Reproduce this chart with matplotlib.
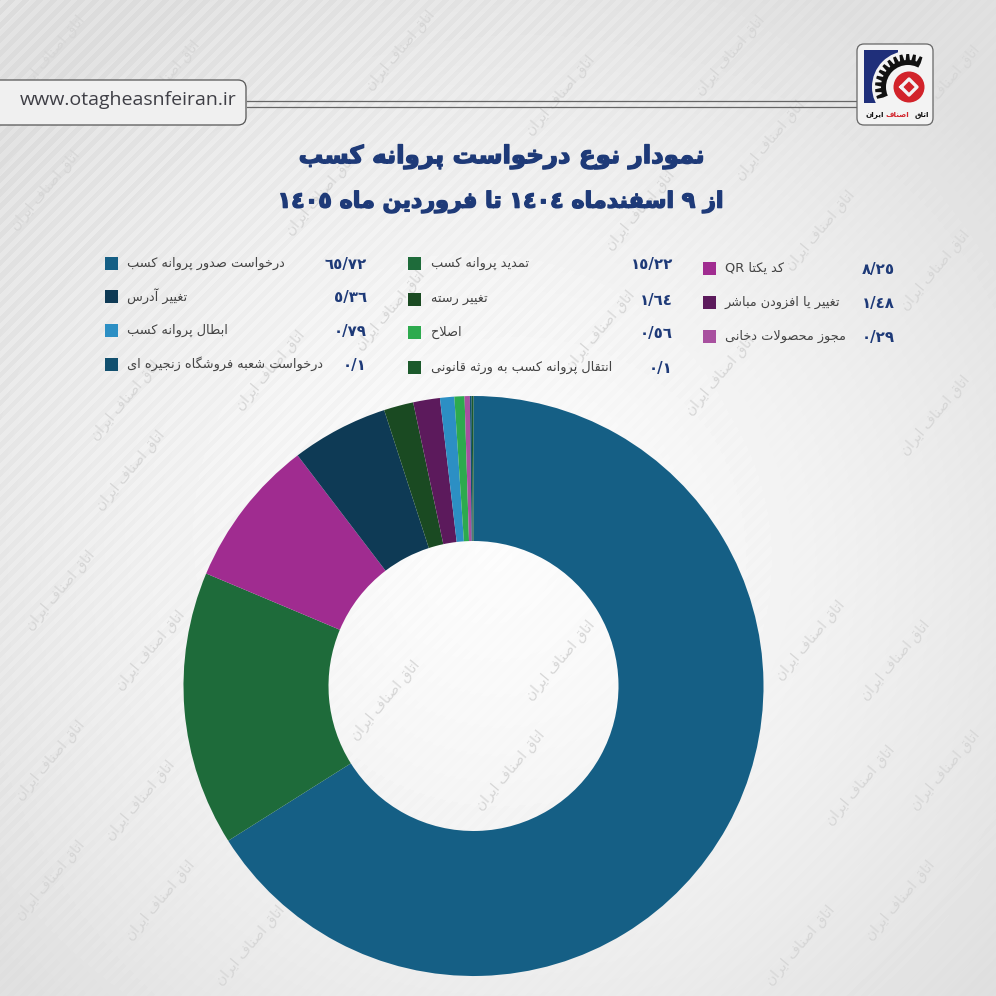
"""Doughnut of licence request types, with the header, legend and watermarks of the poster."""
import re

import numpy as np
import matplotlib
matplotlib.use("Agg")
import matplotlib.pyplot as plt
import matplotlib.patheffects as pe
from matplotlib.patches import Circle, FancyBboxPatch, Polygon, Rectangle

W = 996

TITLE_LINES = ["نمودار نوع درخواست پروانه کسب", "از ٩ اسفندماه ١٤٠٤ تا فروردین ماه ١٤٠٥"]
URL = "www.otagheasnfeiran.ir"
WATERMARK = "اتاق اصناف ایران"

names = ["درخواست صدور پروانه کسب", "تمدید پروانه کسب", "کد یکتا QR",
         "تغییر آدرس", "تغییر رسته", "تغییر یا افزودن مباشر",
         "ابطال پروانه کسب", "اصلاح", "مجوز محصولات دخانی",
         "درخواست شعبه فروشگاه زنجیره ای", "انتقال پروانه کسب به ورثه قانونی"]
values = [65.72, 15.22, 8.25, 5.36, 1.64, 1.48, 0.79, 0.56, 0.29, 0.1, 0.1]
value_labels = ["٦٥/٧٢", "١٥/٢٢", "٨/٢٥", "٥/٣٦", "١/٦٤", "١/٤٨",
                "٠/٧٩", "٠/٥٦", "٠/٢٩", "٠/١", "٠/١"]
colors = ["#155f85", "#1e6b3a", "#a02c90", "#0e3a55", "#1a4a22", "#5c1a5c",
          "#2c8fc4", "#2daa4e", "#a8509f", "#12506f", "#1c5a2c"]

# legend cell positions in pixels, one list per column
COL_SWATCH = [105, 408, 703]
COL_LABEL = [127, 431, 725]
COL_VALUE = [367, 673, 895]
ROW_Y = [[263, 296, 330, 364], [263, 299, 332, 367], [268, 302, 336]]

WM_SPOTS = [(165, 80), (50, 55), (400, 50), (560, 95), (730, 55), (945, 85), (45, 190),
            (320, 195), (640, 210), (770, 140), (935, 270), (125, 400), (270, 370),
            (390, 310), (600, 330), (820, 230), (720, 375), (935, 415), (130, 470),
            (60, 590), (150, 650), (560, 660), (385, 700), (510, 770), (810, 640),
            (895, 660), (860, 785), (945, 770), (50, 760), (140, 800), (50, 880),
            (160, 900), (250, 945), (800, 945), (900, 900)]

# Arabic presentation forms: first code point of iso/final/initial/medial
JOIN4 = {"ب": 0xFE8F, "پ": 0xFB56, "ت": 0xFE95, "ث": 0xFE99, "ج": 0xFE9D, "چ": 0xFB7A,
         "ح": 0xFEA1, "خ": 0xFEA5, "س": 0xFEB1, "ش": 0xFEB5, "ص": 0xFEB9, "ض": 0xFEBD,
         "ط": 0xFEC1, "ظ": 0xFEC5, "ع": 0xFEC9, "غ": 0xFECD, "ف": 0xFED1, "ق": 0xFED5,
         "ک": 0xFB8E, "گ": 0xFB92, "ل": 0xFEDD, "م": 0xFEE1, "ن": 0xFEE5, "ه": 0xFEE9,
         "ی": 0xFBFC}
JOIN2 = {"ا": 0xFE8D, "آ": 0xFE81, "د": 0xFEA9, "ذ": 0xFEAB, "ر": 0xFEAD, "ز": 0xFEAF,
         "ژ": 0xFB8A, "و": 0xFEED}


def _shape_word(word):
    word = word.replace("لا", "\ufdf2")  # placeholder for lam-alef
    out = []
    for i, ch in enumerate(word):
        prev = word[i - 1] if i else ""
        nxt = word[i + 1] if i + 1 < len(word) else ""
        joins_prev = prev in JOIN4
        joins_next = nxt in JOIN4 or nxt in JOIN2 or nxt == "\ufdf2"
        if ch == "\ufdf2":
            out.append("\ufefc" if joins_prev else "\ufefb")
        elif ch in JOIN2:
            out.append(chr(JOIN2[ch] + (1 if joins_prev else 0)))
        elif ch in JOIN4:
            idx = {(0, 0): 0, (1, 0): 1, (0, 1): 2, (1, 1): 3}[(joins_prev, joins_next)]
            out.append(chr(JOIN4[ch] + idx))
        else:
            out.append(ch)
    return "".join(out)


def fa(text):
    """Shape Persian text and lay it out in visual order, matplotlib does neither."""
    tokens = re.findall(r"[A-Za-z0-9٠-٩/]+|\s+|[^A-Za-z0-9٠-٩/\s]+", text)
    return "".join(t if re.match(r"[A-Za-z0-9٠-٩/]", t) or t.isspace()
                   else _shape_word(t)[::-1] for t in reversed(tokens))


fig = plt.figure(figsize=(W / 100, W / 100), dpi=100)
bg = fig.add_axes([0, 0, 1, 1])
bg.set_xlim(0, W)
bg.set_ylim(W, 0)
bg.axis("off")

# grey backdrop: bright glow in the middle, diagonal stripes strongest at top left
yy, xx = np.mgrid[0:W, 0:W]
dist = np.hypot((xx - 500) / 640, (yy - 560) / 640)
shade = 0.985 - 0.11 * np.clip(dist, 0, 1) ** 1.5
fade = np.clip(1 - (xx + yy) / 1300, 0.12, 1)
stripes = (np.sin(2 * np.pi * (xx + yy) / 14) > 0) * 0.035 * fade
bg.imshow(shade + stripes - 0.015 * fade, cmap="gray", vmin=0, vmax=1, extent=(0, W, W, 0),
          interpolation="bilinear", aspect="auto", zorder=0)
bg.set_xlim(0, W)
bg.set_ylim(W, 0)

for x, y in WM_SPOTS:
    bg.text(x, y, fa(WATERMARK), rotation=50, rotation_mode="anchor", ha="center", va="center",
            fontsize=10, color="#d6d6d6", zorder=1)

# url box and the double rule running to the logo
bg.add_patch(FancyBboxPatch((-20, 80), 266, 45, boxstyle="round,pad=0,rounding_size=8",
                            fc="#f0f0f0", ec="#555555", lw=0.9, zorder=2))
bg.plot([247, 857], [100.5, 100.5], color="#666666", lw=0.9, zorder=2)
bg.plot([247, 857], [107, 107], color="#666666", lw=0.9, zorder=2)
bg.text(20, 100, URL, family="Open Sans", fontsize=14, color="#3f3f46", va="center", zorder=3)

# logo
bg.add_patch(FancyBboxPatch((857, 44), 76, 81, boxstyle="round,pad=0,rounding_size=7",
                            fc="#f3f3f3", ec="#666666", lw=0.9, zorder=2))
navy = Rectangle((864, 50), 34, 53, fc="#1f2f7a", ec="none", zorder=3)
bg.add_patch(navy)
cx, cy = 908, 87
cut = Circle((cx, cy), 36, fc="#f3f3f3", ec="none", zorder=3)
bg.add_patch(cut)
cut.set_clip_path(navy)
gear = []
for a in np.arange(62, 206, 12):
    for off, rad in ((0, 27), (2, 33), (7, 33), (9, 27)):
        t = np.radians(a + off)
        gear.append((cx + rad * np.cos(t), cy - rad * np.sin(t)))
gear.append((cx, cy))
bg.add_patch(Polygon(gear, fc="#111111", ec="none", zorder=4))
bg.add_patch(Circle((cx, cy), 22, fc="#f3f3f3", ec="none", zorder=5))
bg.add_patch(Circle((cx + 1, cy), 15.5, fc="#d2232a", ec="none", zorder=6))
bg.plot([cx - 7, cx + 1, cx + 9, cx + 1, cx - 7], [cy, cy - 8, cy, cy + 8, cy],
        color="#f3f3f3", lw=2.4, zorder=7)
bg.text(929, 115, fa("اتاق"), ha="right", va="center", fontsize=5.2, weight="bold", color="#111111", zorder=3)
bg.text(909, 115, fa("اصناف"), ha="right", va="center", fontsize=5.2, weight="bold", color="#d2232a", zorder=3)
bg.text(884, 115, fa("ایران"), ha="right", va="center", fontsize=5.2, weight="bold", color="#111111", zorder=3)

# title
for line, y, size in zip(TITLE_LINES, (157, 202), (17.6, 16.0)):
    bg.text(501, y, fa(line), ha="center", va="center", fontsize=size, weight="bold",
            color="#1e3a78", zorder=3,
            path_effects=[pe.withStroke(linewidth=1.0, foreground="#1e3a78")])

# legend
for i, (name, lab, col) in enumerate(zip(names, value_labels, colors)):
    c, r = i % 3, i // 3
    y = ROW_Y[c][r]
    bg.add_patch(Rectangle((COL_SWATCH[c], y - 6.5), 13, 13, fc=col, ec="none", zorder=3))
    bg.text(COL_LABEL[c], y, fa(name), ha="left", va="center", fontsize=9.3,
            color="#444444", zorder=3)
    bg.text(COL_VALUE[c], y + 1, fa(lab), ha="right", va="center", fontsize=10.8,
            weight="bold", color="#1e3a78", zorder=3)

# doughnut
PIE_X, PIE_Y, PIE_R = 473.5, 686, 290
ax = fig.add_axes([(PIE_X - PIE_R) / W, 1 - (PIE_Y + PIE_R) / W, 2 * PIE_R / W, 2 * PIE_R / W])
ax.pie(values, colors=colors, startangle=90, counterclock=False, radius=1,
       wedgeprops={"width": 0.5, "linewidth": 0})
ax.set_xlim(-1, 1)
ax.set_ylim(-1, 1)

fig.savefig("out.png", dpi=100)
